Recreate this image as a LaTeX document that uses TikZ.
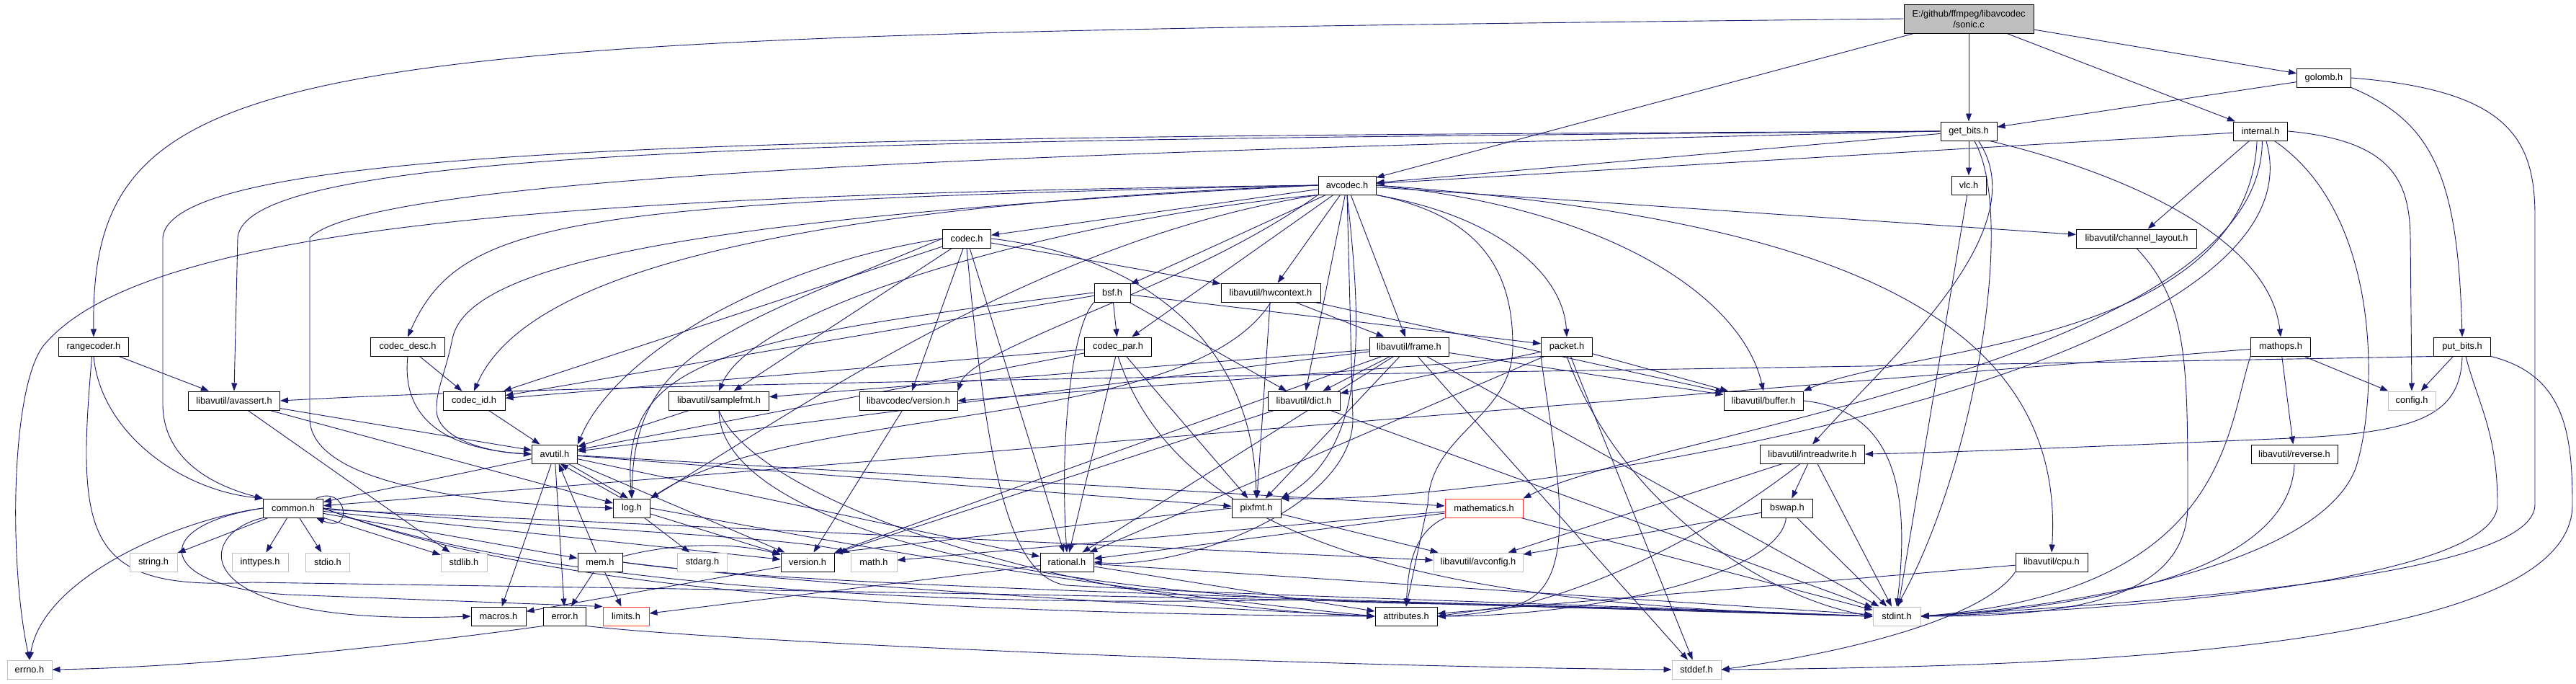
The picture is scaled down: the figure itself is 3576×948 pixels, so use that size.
\documentclass[tikz,border=0pt]{standalone}
\usepackage{fontspec}
\newfontfamily\nodefont{Liberation Sans}
\usetikzlibrary{arrows.meta}
\definecolor{edgeblue}{HTML}{191970}
\definecolor{sysgray}{HTML}{BFBFBF}
\definecolor{truncred}{HTML}{FF3030}
\pgfdeclarelayer{edgelayer}
\pgfsetlayers{edgelayer,main}
\tikzset{
  nd/.style={draw=black, line width=1pt, fill=white, minimum height=26pt, inner sep=1pt,
    font={\nodefont\fontsize{12.8pt}{15pt}\selectfont}},
  sysnd/.style={nd, draw=sysgray},
  trnd/.style={nd, draw=truncred},
  dep/.style={draw=edgeblue, line width=0.9pt, -{Triangle[length=11pt,width=8pt]}}
}
\begin{document}
\begin{tikzpicture}[x=1pt,y=-1pt]
\useasboundingbox (0,0) rectangle (3576,948);
% ---------------- nodes ----------------
\node[nd, fill=sysgray, minimum width=180pt, minimum height=40pt, align=center] (sonic) at (2733,26) {E:/github/ffmpeg/libavcodec\\/sonic.c};
\node[nd, minimum width=75pt] (golomb) at (3226,108) {golomb.h};
\node[nd, minimum width=78pt] (getbits) at (2733,182) {get\_bits.h};
\node[nd, minimum width=75pt] (internal) at (3138,182) {internal.h};
\node[nd, minimum width=80pt] (avcodec) at (1870,257) {avcodec.h};
\node[nd, minimum width=48pt] (vlc) at (2733,257) {vlc.h};
\node[nd, minimum width=67pt] (codec) at (1342,331) {codec.h};
\node[nd, minimum width=167pt] (chlayout) at (2966,331) {libavutil/channel\_layout.h};
\node[nd, minimum width=50pt] (bsf) at (1544,406) {bsf.h};
\node[nd, minimum width=138pt] (hwctx) at (1764,406) {libavutil/hwcontext.h};
\node[nd, minimum width=97pt] (rangecoder) at (130,481) {rangecoder.h};
\node[nd, minimum width=103pt] (codecdesc) at (566,481) {codec\_desc.h};
\node[nd, minimum width=93pt] (codecpar) at (1552,481) {codec\_par.h};
\node[nd, minimum width=110pt] (frame) at (1956,481) {libavutil/frame.h};
\node[nd, minimum width=71pt] (packet) at (2175,481) {packet.h};
\node[nd, minimum width=83pt] (mathops) at (3166,481) {mathops.h};
\node[nd, minimum width=79pt] (putbits) at (3418,481) {put\_bits.h};
\node[nd, minimum width=127pt] (avassert) at (325,556) {libavutil/avassert.h};
\node[nd, minimum width=86pt] (codecid) at (658,556) {codec\_id.h};
\node[nd, minimum width=139pt] (samplefmt) at (998,556) {libavutil/samplefmt.h};
\node[nd, minimum width=136pt] (lavcver) at (1261,556) {libavcodec/version.h};
\node[nd, minimum width=100pt] (dict) at (1810,556) {libavutil/dict.h};
\node[nd, minimum width=110pt] (buffer) at (2448,556) {libavutil/buffer.h};
\node[sysnd, minimum width=66pt] (config) at (3348,556) {config.h};
\node[nd, minimum width=63pt] (avutil) at (770,630) {avutil.h};
\node[nd, minimum width=145pt] (intrw) at (2516,630) {libavutil/intreadwrite.h};
\node[nd, minimum width=120pt] (reverse) at (3185,630) {libavutil/reverse.h};
\node[nd, minimum width=83pt] (common) at (407,705) {common.h};
\node[nd, minimum width=51pt] (log) at (877,705) {log.h};
\node[nd, minimum width=68pt] (pixfmt) at (1744,705) {pixfmt.h};
\node[trnd, minimum width=108pt] (mathem) at (2060,705) {mathematics.h};
\node[nd, minimum width=71pt] (bswap) at (2481,705) {bswap.h};
\node[sysnd, minimum width=66pt] (string) at (213,780) {string.h};
\node[sysnd, minimum width=78pt] (inttypes) at (361,780) {inttypes.h};
\node[sysnd, minimum width=61pt] (stdio) at (455,780) {stdio.h};
\node[sysnd, minimum width=64pt] (stdlib) at (644,780) {stdlib.h};
\node[nd, minimum width=62pt] (mem) at (833,780) {mem.h};
\node[sysnd, minimum width=69pt] (stdarg) at (975,780) {stdarg.h};
\node[nd, minimum width=74pt] (version) at (1121,780) {version.h};
\node[sysnd, minimum width=64pt] (math) at (1213,780) {math.h};
\node[nd, minimum width=74pt] (rational) at (1481,780) {rational.h};
\node[sysnd, minimum width=124pt] (avconfig) at (2052,780) {libavutil/avconfig.h};
\node[nd, minimum width=100pt] (cpu) at (2848,780) {libavutil/cpu.h};
\node[nd, minimum width=76pt] (macros) at (692,855) {macros.h};
\node[nd, minimum width=59pt] (error) at (784,855) {error.h};
\node[trnd, minimum width=64pt] (limits) at (869,855) {limits.h};
\node[nd, minimum width=86pt] (attributes) at (1952,855) {attributes.h};
\node[sysnd, minimum width=66pt] (stdint) at (2633,855) {stdint.h};
\node[sysnd, minimum width=62pt] (errno) at (41,929) {errno.h};
\node[sysnd, minimum width=68pt] (stddef) at (2355,929) {stddef.h};
% ---------------- edges ----------------
\begin{pgfonlayer}{edgelayer}
\fill[white] (0,0) rectangle (3576,948);
% sonic.c
\draw[dep] (sonic.west) .. controls (400,50) and (125,60) .. (rangecoder.north);
\draw[dep] (sonic) -- (avcodec);
\draw[dep] (sonic) -- (getbits);
\draw[dep] (sonic) -- (internal);
\draw[dep] (sonic) -- (golomb);
% golomb.h
\draw[dep] (golomb) -- (getbits);
\draw[dep] (golomb.south east) .. controls (3380,170) and (3412,250) .. (putbits.north);
\draw[dep] (golomb.east) .. controls (3480,125) and (3519,190) .. (3519,300) -- (3519,700) .. controls (3519,800) and (3000,835) .. (stdint.east);
% get_bits.h
\draw[dep] (getbits) -- (avcodec);
\draw[dep] (getbits) -- (vlc);
\draw[dep] (getbits.west) .. controls (1200,190) and (236,192) .. (226,330) -- (226,560) .. controls (226,640) and (300,675) .. (common.north west);
\draw[dep] (getbits.west) .. controls (1200,195) and (340,200) .. (330,330) -- (avassert.north);
\draw[dep] (getbits.west) .. controls (1500,210) and (520,240) .. (430,330) -- (430,580) .. controls (430,680) and (700,700) .. (log.west);
\draw[dep] (getbits.-45) .. controls (2830,320) and (2620,500) .. (intrw.north);
\draw[dep] (getbits.-60) .. controls (2800,300) and (2740,650) .. (stdint.north);
\draw[dep] (getbits.-25) .. controls (2950,240) and (3150,330) .. (mathops.north);
% internal.h
\draw[dep] (internal) -- (avcodec);
\draw[dep] (internal) -- (chlayout);
\draw[dep] (internal.-110) .. controls (3120,480) and (2650,480) .. (buffer.north east);
\draw[dep] (internal.-80) .. controls (3140,500) and (2300,600) .. (mathem.north east);
\draw[dep] (internal.-60) .. controls (3240,520) and (2100,700) .. (pixfmt.north east);
\draw[dep] (internal.-35) .. controls (3310,300) and (3300,560) .. (3270,650) .. controls (3220,780) and (2900,840) .. (stdint.east);
\draw[dep] (internal.east) .. controls (3320,195) and (3345,250) .. (3346,330) -- (config.north);
% rangecoder.h
\draw[dep] (rangecoder) -- (avassert);
\draw[dep] (rangecoder.south) .. controls (140,600) and (250,680) .. (common.north west);
\draw[dep] (rangecoder.-100) .. controls (105,750) and (120,820) .. (350,808) .. controls (1300,822) and (2100,835) .. (stdint.west);
% vlc.h
\draw[dep] (vlc) -- (stdint);
% mathops.h
\draw[dep] (mathops) -- (config);
\draw[dep] (mathops) -- (reverse);
\draw[dep] (mathops) -- (common);
\draw[dep] (mathops.south west) .. controls (3090,600) and (3090,820) .. (stdint.east);
% put_bits.h
\draw[dep] (putbits) -- (config);
\draw[dep] (putbits.south west) .. controls (2000,520) and (900,528) .. (avassert.east);
\draw[dep] (putbits.south) .. controls (3416,580) and (3350,600) .. (3180,608) .. controls (2900,620) and (2700,628) .. (intrw.east);
\draw[dep] (putbits.-70) .. controls (3440,560) and (3467,600) .. (3467,700) .. controls (3467,800) and (3000,845) .. (stdint.east);
\draw[dep] (putbits.south east) .. controls (3560,520) and (3571,600) .. (3571,700) .. controls (3571,900) and (2900,925) .. (stddef.east);
% reverse.h, channel_layout.h, cpu.h
\draw[dep] (reverse.south) .. controls (3180,780) and (2950,840) .. (stdint.east);
\draw[dep] (chlayout.south) .. controls (3037,420) and (3037,500) .. (3037,700) .. controls (3037,840) and (2850,855) .. (stdint.east);
\draw[dep] (cpu) -- (attributes);
\draw[dep] (cpu.south west) .. controls (2760,850) and (2600,900) .. (stddef.east);
% avcodec.h
\draw[dep] (avcodec.west) .. controls (800,270) and (200,310) .. (60,480) .. controls (15,540) and (12,780) .. (errno.north);
\draw[dep] (avcodec.south west) .. controls (1500,300) and (1050,420) .. (samplefmt.north);
\draw[dep] (avcodec.south east) .. controls (2060,300) and (2100,380) .. (2100,480) .. controls (2100,580) and (1985,600) .. (1982,700) -- (attributes.north);
\draw[dep] (avcodec.west) .. controls (1000,300) and (650,360) .. (628,470) .. controls (618,520) and (605,540) .. (606,570) .. controls (608,610) and (680,628) .. (avutil.west);
\draw[dep] (avcodec.east) .. controls (2250,290) and (2420,420) .. (buffer.north);
\draw[dep] (avcodec.east) .. controls (2500,300) and (2870,420) .. (cpu.north);
\draw[dep] (avcodec) -- (chlayout);
\draw[dep] (avcodec) -- (dict);
\draw[dep] (avcodec) -- (frame);
\draw[dep] (avcodec) -- (hwctx);
\draw[dep] (avcodec.south west) .. controls (1450,330) and (1120,560) .. (log.north east);
\draw[dep] (avcodec.south) .. controls (1890,450) and (1900,620) .. (pixfmt.north east);
\draw[dep] (avcodec.south) -- (1878,580) .. controls (1880,700) and (1650,790) .. (rational.east);
\draw[dep] (avcodec) -- (bsf);
\draw[dep] (avcodec) -- (codec);
\draw[dep] (avcodec.west) .. controls (800,280) and (640,300) .. (codecdesc.north);
\draw[dep] (avcodec) -- (codecpar);
\draw[dep] (avcodec.west) .. controls (1000,290) and (720,400) .. (codecid.north);
\draw[dep] (avcodec.south east) .. controls (2080,300) and (2170,380) .. (packet.north);
\draw[dep] (avcodec.south west) .. controls (1650,400) and (1350,480) .. (lavcver.north east);
% codec.h
\draw[dep] (codec.west) .. controls (1050,370) and (850,500) .. (avutil.north east);
\draw[dep] (codec) -- (hwctx);
\draw[dep] (codec.west) .. controls (1000,460) and (880,490) .. (log.north);
\draw[dep] (codec.east) .. controls (1620,360) and (1740,500) .. (pixfmt.north);
\draw[dep] (codec) -- (rational);
\draw[dep] (codec) -- (samplefmt);
\draw[dep] (codec) -- (codecid);
\draw[dep] (codec) -- (lavcver);
\draw[dep] (codec.south) .. controls (1370,650) and (1400,800) .. (1480,812) .. controls (1700,825) and (2100,835) .. (stdint.west);
% codec_desc.h, codec_id.h
\draw[dep] (codecdesc) -- (codecid);
\draw[dep] (codecdesc.south) .. controls (555,600) and (650,625) .. (avutil.west);
\draw[dep] (codecid) -- (avutil);
% codec_par.h
\draw[dep] (codecpar) -- (avutil);
\draw[dep] (codecpar) -- (codecid);
\draw[dep] (codecpar) -- (pixfmt);
\draw[dep] (codecpar) -- (rational);
\draw[dep] (codecpar.south) .. controls (1640,760) and (2000,840) .. (stdint.west);
% bsf.h
\draw[dep] (bsf) -- (codecid);
\draw[dep] (bsf) -- (codecpar);
\draw[dep] (bsf) -- (dict);
\draw[dep] (bsf.west) .. controls (1000,470) and (860,500) .. (log.north);
\draw[dep] (bsf) -- (packet);
\draw[dep] (bsf.south west) .. controls (1490,450) and (1470,600) .. (rational.north);
% hwcontext.h
\draw[dep] (hwctx) -- (buffer);
\draw[dep] (hwctx) -- (frame);
\draw[dep] (hwctx.south) .. controls (1650,600) and (1100,560) .. (log.north east);
\draw[dep] (hwctx) -- (pixfmt);
% frame.h
\draw[dep] (frame) -- (avutil);
\draw[dep] (frame) -- (buffer);
\draw[dep] (frame) -- (dict);
\draw[dep] (frame) -- (pixfmt);
\draw[dep] (frame) -- (rational);
\draw[dep] (frame) -- (samplefmt);
\draw[dep] (frame) -- (version);
\draw[dep] (frame) -- (stddef);
\draw[dep] (frame) -- (stdint);
% packet.h
\draw[dep] (packet.south west) .. controls (2160,650) and (2200,820) .. (2100,840) -- (attributes.east);
\draw[dep] (packet) -- (buffer);
\draw[dep] (packet) -- (dict);
\draw[dep] (packet) -- (rational);
\draw[dep] (packet.south west) -- (lavcver.east);
\draw[dep] (packet) -- (stddef);
\draw[dep] (packet.south) .. controls (2250,700) and (2450,830) .. (stdint.west);
% samplefmt.h
\draw[dep] (samplefmt) -- (avutil);
\draw[dep] (samplefmt.south) .. controls (1050,700) and (1500,840) .. (attributes.west);
\draw[dep] (samplefmt.south) .. controls (1000,720) and (1400,830) .. (2000,838) -- (stdint.west);
% dict.h, buffer.h, libavcodec/version.h
\draw[dep] (dict) -- (version);
\draw[dep] (dict) -- (stdint);
\draw[dep] (buffer.east) .. controls (2640,570) and (2650,700) .. (stdint.north);
\draw[dep] (lavcver) -- (version);
% avutil.h
\draw[dep] (avutil) -- (common);
\draw[dep] (avutil) -- (error);
\draw[dep] (avutil) -- (rational);
\draw[dep] (avutil) -- (version);
\draw[dep] (avutil) -- (macros);
\draw[dep] (avutil) -- (mathem);
\draw[dep] (avutil.-35) -- (log.110);
\draw[dep] (avutil) -- (pixfmt);
% common.h
\draw[dep] (common.west) .. controls (250,720) and (60,800) .. (errno.north);
\draw[dep] (common) -- (inttypes);
\draw[dep] (common.west) .. controls (200,730) and (220,815) .. (400,825) -- (limits.north west);
\draw[dep] (common.east) .. controls (800,735) and (1100,745) .. (math.north west);
\draw[dep] (common.east) .. controls (700,800) and (1200,845) .. (1800,832) -- (stdint.west);
\draw[dep] (common) -- (stdio);
\draw[dep] (common) -- (stdlib);
\draw[dep] (common) -- (string);
\draw[dep] (common.east) .. controls (700,800) and (1100,850) .. (attributes.west);
\draw[dep] (common.south west) .. controls (270,740) and (250,870) .. (macros.west);
\draw[dep] (common) -- (version);
\draw[dep] (common) -- (avconfig);
\draw[dep] (common) -- (mem);
\draw[dep] ([xshift=-10pt]common.north east) .. controls (482,672) and (492,742) .. ([xshift=-10pt]common.south east);
% mem.h
\draw[dep] (mem) -- (avutil);
\draw[dep] (mem) -- (error);
\draw[dep] (mem) -- (limits);
\draw[dep] (mem.east) .. controls (1100,810) and (1600,840) .. (attributes.west);
\draw[dep] (mem.east) .. controls (1100,815) and (1900,832) .. (stdint.west);
\draw[dep] (mem) .. controls (950,750) and (1030,755) .. (version);
% error.h
\draw[dep] (error.south west) .. controls (600,890) and (300,925) .. (errno.east);
\draw[dep] (error.south east) .. controls (1000,890) and (1800,925) .. (stddef.west);
% log.h
\draw[dep] (log.135) -- (avutil.-60);
\draw[dep] (log) -- (stdarg);
\draw[dep] (log.east) .. controls (1100,740) and (1450,810) .. (attributes.west);
\draw[dep] (log) -- (version);
% rational.h
\draw[dep] (rational) -- (limits);
\draw[dep] (rational) -- (stdint);
\draw[dep] (rational) -- (attributes);
% mathematics.h
\draw[dep] (mathem) -- (math);
\draw[dep] (mathem) -- (rational);
\draw[dep] (mathem.south west) .. controls (1960,740) and (1955,790) .. (attributes.north);
\draw[dep] (mathem) -- (stdint);
% pixfmt.h
\draw[dep] (pixfmt.west) -- (version.north east);
\draw[dep] (pixfmt) -- (avconfig);
% intreadwrite.h
\draw[dep] (intrw) -- (avconfig);
\draw[dep] (intrw) .. controls (2350,760) and (2150,850) .. (attributes.east);
\draw[dep] (intrw) -- (bswap);
\draw[dep] (intrw) -- (stdint);
% bswap.h
\draw[dep] (bswap) -- (avconfig);
\draw[dep] (bswap) .. controls (2470,800) and (2200,855) .. (attributes.east);
\draw[dep] (bswap) -- (stdint);
% version.h
\draw[dep] (version) -- (macros);
% avassert.h
\draw[dep] (avassert) -- (stdlib);
\draw[dep] (avassert) -- (avutil);
\draw[dep] (avassert) -- (log);
\end{pgfonlayer}
\end{tikzpicture}
\end{document}
